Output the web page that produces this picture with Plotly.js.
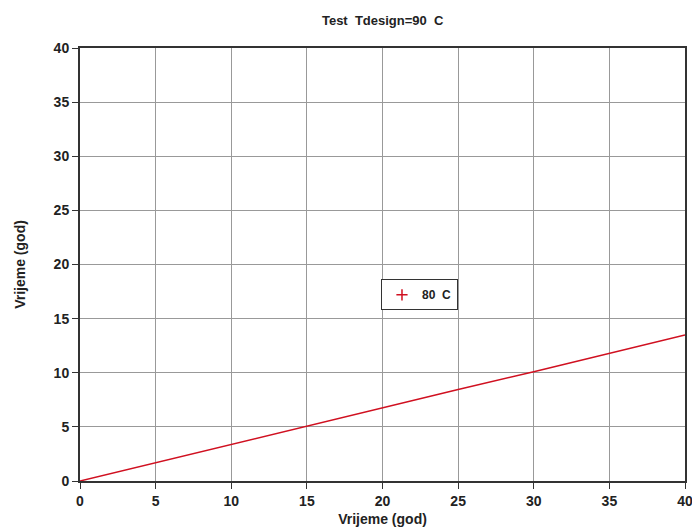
<!DOCTYPE html>
<html><head><meta charset="utf-8">
<script src="https://cdn.plot.ly/plotly-3.0.1.min.js"></script>
<style>body{margin:0;background:#fff}#c{width:692px;height:529px}</style>
</head><body><div id="c"></div>
<script>
const xVals = [0, 5, 10, 15, 20, 25, 30, 35, 40];
const yVals = [0, 1.7, 3.4, 5.1, 6.8, 8.45, 10.1, 11.8, 13.5];
const seriesName = "80  C";
const titleText = "Test  Tdesign=90  C";
const xTitle = "Vrijeme (god)";
const yTitle = "Vrijeme (god)";
const tickVals = [0, 5, 10, 15, 20, 25, 30, 35, 40];

const red = "#d01020";
const fam = "Liberation Sans, Arial, sans-serif";
const data = [
  {x: xVals, y: yVals, mode: "lines", line: {color: red, width: 1.5}, showlegend: false},
  {x: [null], y: [null], mode: "markers", name: seriesName,
   marker: {symbol: "cross-thin-open", color: red, size: 8, line: {color: red, width: 1.5}}}
];
const axisCommon = {
  range: [0, 40], tickvals: tickVals, ticks: "outside", ticklen: 6, tickcolor: "#333",
  showline: true, linecolor: "#333", linewidth: 2, mirror: true,
  showgrid: true, gridcolor: "#999", gridwidth: 1, zeroline: false,
  automargin: false, ticklabeloverflow: "allow",
  tickfont: {family: fam, size: 14, color: "#222", weight: "bold"}
};
const layout = {
  width: 692, height: 529,
  margin: {l: 80, r: 7, t: 48, b: 48},
  paper_bgcolor: "#fff", plot_bgcolor: "#fff",
  title: {text: titleText, x: 0.553, xanchor: "center", y: 0.962, yanchor: "middle",
          font: {family: fam, size: 13, color: "#222", weight: "bold"}},
  xaxis: Object.assign({}, axisCommon, {title: {text: xTitle, standoff: 6,
          font: {family: fam, size: 14, color: "#222", weight: "bold"}}}),
  yaxis: Object.assign({}, axisCommon, {title: {text: yTitle, standoff: 25,
          font: {family: fam, size: 14, color: "#222", weight: "bold"}}}),
  showlegend: true,
  legend: {x: 0.4975, xanchor: "left", y: 0.43, yanchor: "middle", bgcolor: "#fff",
           bordercolor: "#333", borderwidth: 1, itemwidth: 30,
           font: {family: fam, size: 12, color: "#222", weight: "bold"}}
};
Plotly.newPlot("c", data, layout, {displayModeBar: false});
</script></body></html>
